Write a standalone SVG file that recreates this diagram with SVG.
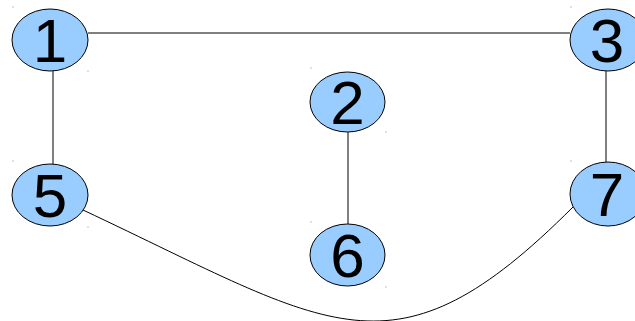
<svg xmlns="http://www.w3.org/2000/svg" width="635" height="321" viewBox="0 0 635 321">
<style>
.n ellipse{fill:#99ccff;stroke:#000;stroke-width:1}
.n text{font-family:"Liberation Sans",Arial,sans-serif;font-size:62px;fill:#000;text-anchor:middle}
.e{stroke:#000;stroke-width:1;fill:none}
.d{fill:#888}
</style>
<rect width="635" height="321" fill="#fff"/>
<g id="connectors">
<line class="e" x1="88" y1="33" x2="570" y2="33"/>
<line class="e" x1="53" y1="71" x2="53" y2="164"/>
<line class="e" x1="606" y1="71" x2="606" y2="162"/>
<line class="e" x1="348" y1="132" x2="348" y2="224"/>
<path class="e" d="M83,210 C333,327.5 393,387 573,207"/>
</g>
<g id="dots">
<rect class="d" x="12.5" y="6.5" width="1" height="1"/>
<rect class="d" x="87.5" y="70.5" width="1" height="1"/>
<rect class="d" x="12.5" y="160.5" width="1" height="1"/>
<rect class="d" x="87.5" y="226.5" width="1" height="1"/>
<rect class="d" x="570.5" y="6.5" width="1" height="1"/>
<rect class="d" x="570.5" y="160.5" width="1" height="1"/>
<rect class="d" x="310.5" y="67.5" width="1" height="1"/>
<rect class="d" x="385.5" y="131.5" width="1" height="1"/>
<rect class="d" x="310.5" y="221.5" width="1" height="1"/>
<rect class="d" x="385.5" y="286.5" width="1" height="1"/>
</g>
<g id="node1" class="n"><ellipse cx="50" cy="40" rx="38" ry="31"/><text x="50" y="62">1</text></g>
<g id="node3" class="n"><ellipse cx="608" cy="40" rx="38" ry="31"/><text x="607" y="62">3</text></g>
<g id="node2" class="n"><ellipse cx="347.5" cy="102" rx="37.5" ry="30"/><text x="347.5" y="124">2</text></g>
<g id="node5" class="n"><ellipse cx="50" cy="195" rx="38" ry="31"/><text x="50" y="217">5</text></g>
<g id="node6" class="n"><ellipse cx="347.5" cy="255" rx="37.5" ry="31"/><text x="347.5" y="277">6</text></g>
<g id="node7" class="n"><ellipse cx="608" cy="194" rx="38" ry="32"/><text x="607" y="216">7</text></g>
</svg>
